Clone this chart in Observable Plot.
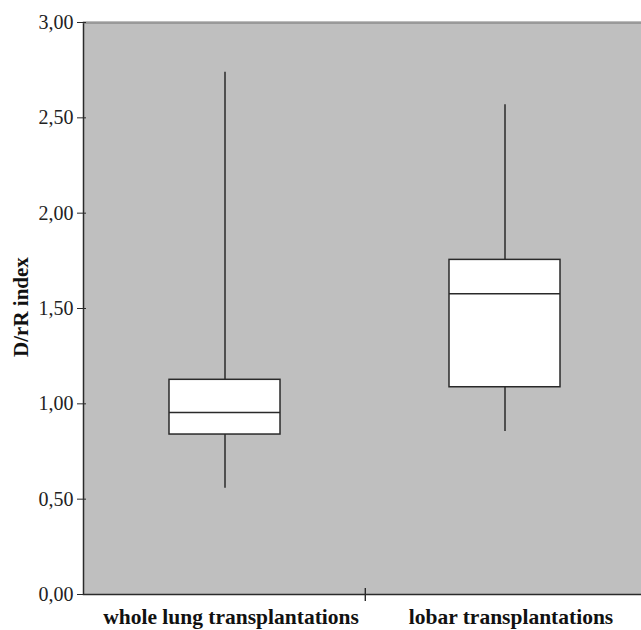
<!DOCTYPE html>
<html>
<head>
<meta charset="utf-8">
<script src="https://cdn.jsdelivr.net/npm/d3@7"></script>
<script src="https://cdn.jsdelivr.net/npm/@observablehq/plot@0.6"></script>
<style>
  html, body { margin: 0; padding: 0; background: #fff; overflow: hidden; }
  #chart { width: 641px; height: 630px; }
</style>
</head>
<body>
<div id="chart"></div>
<script>
// ---- data ----
const categories = ["whole lung transplantations", "lobar transplantations"];
const whiskerLow  = [0.557, 0.855];
const quartile1   = [0.839, 1.087];
const medians     = [0.954, 1.577];
const quartile3   = [1.126, 1.755];
const whiskerHigh = [2.739, 2.568];
const yTicks = [0, 0.5, 1, 1.5, 2, 2.5, 3];
const yLabel = "D/rR index";

const rows = categories.map((c, i) => ({
  cat: c, lo: whiskerLow[i], q1: quartile1[i], med: medians[i], q3: quartile3[i], hi: whiskerHigh[i]
}));

const fmt = d => d3.format(".2f")(d).replace(".", ",");
const serif = "'Liberation Serif', 'Times New Roman', serif";

const chart = Plot.plot({
  width: 641,
  height: 630,
  marginTop: 22,
  marginBottom: 36,
  marginLeft: 83,
  marginRight: 0,
  style: { fontFamily: serif, background: "#fff", color: "#222", overflow: "hidden" },
  x: { domain: categories, range: [83.4, 644.6], paddingInner: 0.604, paddingOuter: 0.302, align: 0.5, label: null },
  y: { domain: [0, 3], label: null },
  marks: [
    Plot.frame({ fill: "#bfbfbf", stroke: "#2a2a2a", strokeWidth: 1.5, insetRight: -3 }),
    Plot.ruleY([3], { stroke: "#9a9a9a", strokeWidth: 1.5 }),
    // whiskers
    Plot.ruleX(rows, { x: "cat", y1: "lo", y2: "q1", stroke: "#2a2a2a", strokeWidth: 1.5 }),
    Plot.ruleX(rows, { x: "cat", y1: "q3", y2: "hi", stroke: "#2a2a2a", strokeWidth: 1.5 }),
    // boxes
    Plot.barY(rows, { x: "cat", y1: "q1", y2: "q3", fill: "white", stroke: "#2a2a2a", strokeWidth: 1.5 }),
    Plot.tickY(rows, { x: "cat", y: "med", stroke: "#2a2a2a", strokeWidth: 1.5 }),
    // y axis
    Plot.axisY(yTicks, { tickFormat: fmt, tickSize: 9, dx: 3, tickPadding: 4, fontSize: 20, stroke: "#2a2a2a", fill: "#222", label: null }),
    // x axis labels
    Plot.axisX({ tickSize: 0, tickPadding: 14, fontSize: 21.5, fontWeight: "bold", fill: "#111", dx: 6, label: null }),
    // tick between the categories
    Plot.ruleX([categories[0]], { x: d => d, y1: 0, y2: 0, insetTop: -6, insetBottom: -7, dx: 140.3, stroke: "#2a2a2a", strokeWidth: 1.4 }),
    // y label
    Plot.text([yLabel], { text: d => d, frameAnchor: "left", textAnchor: "middle", rotate: -90, dx: -62, dy: -1.5, fontSize: 21, fontWeight: "bold", fill: "#111" })
  ]
});
document.getElementById("chart").appendChild(chart);
</script>
</body>
</html>
